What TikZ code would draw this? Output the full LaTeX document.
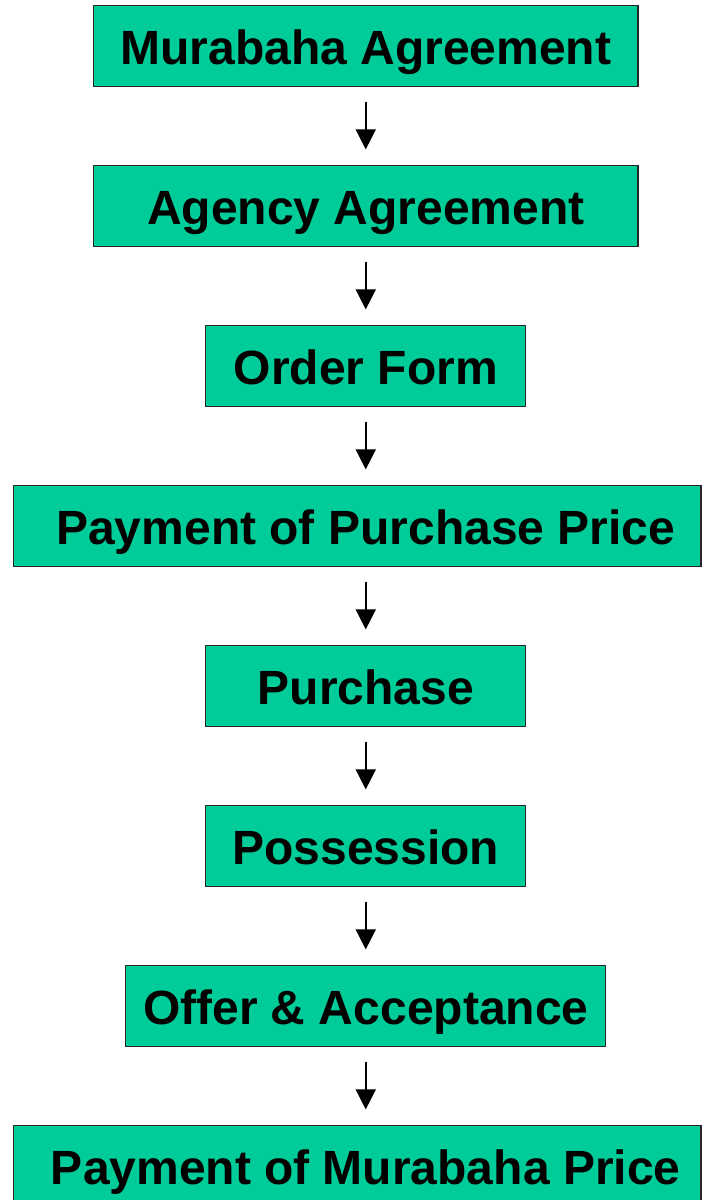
\documentclass[tikz,border=0pt]{standalone}
\usepackage{fontspec}
\setmainfont{Liberation Sans}
\usepackage{xcolor}
\usetikzlibrary{arrows.meta, positioning}

\definecolor{boxgreen}{RGB}{0,204,153}

\begin{document}
\begin{tikzpicture}[x=1pt,y=-1pt,node distance=77.8pt,
    stepbox/.style={rectangle,draw=black!85,line width=1.2pt,fill=boxgreen,
      minimum height=81pt,inner sep=0pt,text height=36pt,text depth=0pt,
      font=\fontsize{48}{56}\selectfont\bfseries},
    flow/.style={-{Triangle[width=20pt,length=20pt]},line width=1.5pt,
      shorten <=15pt,shorten >=15.5pt}]
  \useasboundingbox (0,0) rectangle (704,1200);

  \node[stepbox,minimum width=544.5pt] (murabaha) at (365.75,46) {Murabaha Agreement};
  \node[stepbox,minimum width=544.5pt] (agency)   [below=of murabaha] {Agency Agreement};
  \node[stepbox,minimum width=320pt]   (order)    [below=of agency]   {Order Form};
  \node[stepbox,minimum width=687.5pt] (paypp)    [below=of order,xshift=-8.5pt] {\hspace*{17pt}Payment of Purchase Price};
  \node[stepbox,minimum width=320pt]   (purchase) [below=of paypp,xshift=8.5pt] {Purchase};
  \node[stepbox,minimum width=320pt]   (possess)  [below=of purchase] {Possession};
  \node[stepbox,minimum width=480pt]   (offer)    [below=of possess]  {Offer \& Acceptance};
  \node[stepbox,minimum width=687.5pt] (paymp)    [below=of offer,xshift=-8.5pt] {\hspace*{17pt}Payment of Murabaha Price};

  \foreach \a/\b in {murabaha/agency, agency/order, order/paypp, paypp/purchase,
                     purchase/possess, possess/offer, offer/paymp}
    \draw[flow] (\a.south -| murabaha) -- (\b.north -| murabaha);
\end{tikzpicture}
\end{document}
